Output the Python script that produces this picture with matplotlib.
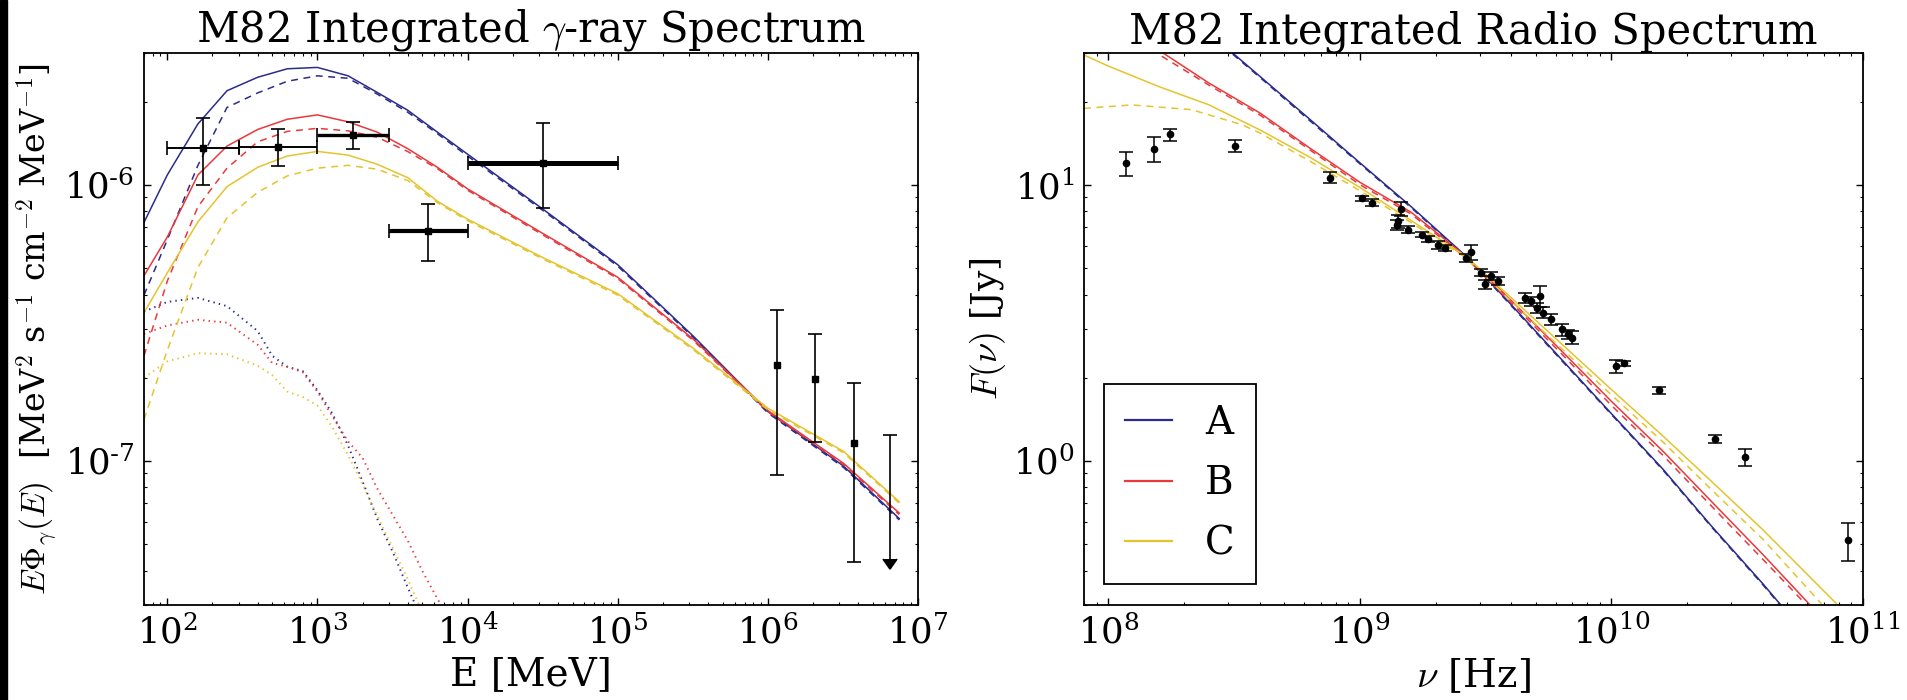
import numpy as np
import matplotlib
matplotlib.use("Agg")
import matplotlib.pyplot as plt
from matplotlib.patches import Rectangle
from matplotlib.ticker import FuncFormatter, NullFormatter

plt.rcParams["font.family"] = ["DejaVu Serif"]
plt.rcParams["mathtext.fontset"] = "cm"
plt.rcParams["lines.scale_dashes"] = False

# ---------------- gamma-ray spectrum: model curves ----------------
E_MODEL = [70, 100, 160, 250, 400, 630, 1000, 1600, 2500, 4000, 6300,
           1e4, 3.2e4, 1e5, 3.2e5, 1e6, 3.2e6, 7.5e6]

A_total = [7.30e-7, 1.084e-6, 1.66e-6, 2.19e-6, 2.45e-6, 2.63e-6, 2.66e-6,
           2.48e-6, 2.16e-6, 1.86e-6, 1.55e-6, 1.29e-6, 8.13e-7, 5.13e-7,
           2.82e-7, 1.507e-7, 9.55e-8, 6.17e-8]
A_pion = [3.98e-7, 6.31e-7, 1.175e-6, 1.905e-6, 2.15e-6, 2.37e-6, 2.48e-6,
          2.43e-6, 2.13e-6, 1.83e-6, 1.53e-6, 1.27e-6, 8.04e-7, 5.07e-7,
          2.79e-7, 1.49e-7, 9.44e-8, 6.10e-8]

B_total = [4.68e-7, 6.46e-7, 1.084e-6, 1.38e-6, 1.585e-6, 1.726e-6, 1.79e-6,
           1.69e-6, 1.55e-6, 1.35e-6, 1.156e-6, 9.66e-7, 6.64e-7, 4.62e-7,
           2.75e-7, 1.52e-7, 9.77e-8, 6.46e-8]
B_pion = [2.40e-7, 4.47e-7, 8.32e-7, 1.148e-6, 1.43e-6, 1.56e-6, 1.60e-6,
          1.567e-6, 1.486e-6, 1.318e-6, 1.143e-6, 9.55e-7, 6.56e-7, 4.57e-7,
          2.72e-7, 1.507e-7, 9.66e-8, 6.38e-8]

C_total = [3.44e-7, 4.79e-7, 7.33e-7, 9.84e-7, 1.156e-6, 1.27e-6, 1.32e-6,
           1.28e-6, 1.186e-6, 1.06e-6, 8.71e-7, 7.50e-7, 5.43e-7, 4.03e-7,
           2.55e-7, 1.55e-7, 1.08e-7, 7.10e-8]
C_pion = [1.41e-7, 2.51e-7, 5.01e-7, 7.59e-7, 9.38e-7, 1.076e-6, 1.148e-6,
          1.175e-6, 1.138e-6, 1.035e-6, 8.61e-7, 7.41e-7, 5.37e-7, 3.98e-7,
          2.52e-7, 1.53e-7, 1.067e-7, 7.02e-8]

E_LEPTON = [70, 100, 160, 250, 400, 500, 630, 800, 1000, 1260, 1600, 2000,
            2500, 3200, 4000, 5000, 6300, 8000]
A_lepton = [3.47e-7, 3.76e-7, 3.89e-7, 3.63e-7, 2.95e-7, 2.40e-7, 2.19e-7,
            2.11e-7, 1.80e-7, 1.48e-7, 1.135e-7, 8.41e-8, 6.17e-8, 4.62e-8,
            3.47e-8, 2.63e-8, 2.0e-8, 1.58e-8]
B_lepton = [2.88e-7, 3.09e-7, 3.24e-7, 3.16e-7, 2.63e-7, 2.26e-7, 2.19e-7,
            2.09e-7, 1.78e-7, 1.445e-7, 1.175e-7, 1.023e-7, 7.94e-8, 6.31e-8,
            5.13e-8, 3.98e-8, 3.16e-8, 2.51e-8]
C_lepton = [2.0e-7, 2.29e-7, 2.45e-7, 2.43e-7, 2.21e-7, 2.04e-7, 1.78e-7,
            1.70e-7, 1.585e-7, 1.32e-7, 1.047e-7, 8.22e-8, 6.31e-8, 4.79e-8,
            3.72e-8, 2.82e-8, 2.09e-8, 1.58e-8]

# ---------------- gamma-ray spectrum: measurements ----------------
LAT_E = [173, 548, 1730, 5480, 31600]
LAT_E_LO = [100, 300, 1000, 3000, 1e4]
LAT_E_HI = [300, 1000, 3000, 1e4, 1e5]
LAT_F = [1.36e-6, 1.37e-6, 1.51e-6, 6.8e-7, 1.2e-6]
LAT_F_LO = [1.0e-6, 1.17e-6, 1.35e-6, 5.3e-7, 8.2e-7]
LAT_F_HI = [1.75e-6, 1.59e-6, 1.69e-6, 8.5e-7, 1.68e-6]

TEV_E = [1.15e6, 2.05e6, 3.75e6]
TEV_F = [2.23e-7, 1.98e-7, 1.16e-7]
TEV_F_LO = [8.9e-8, 1.17e-7, 4.3e-8]
TEV_F_HI = [3.52e-7, 2.87e-7, 1.91e-7]

UL_E = [6.5e6]
UL_F = [1.24e-7]
UL_F_LO = [4.4e-8]

# ---------------- radio spectrum: model curves ----------------
NU_A = [3.12e8, 4e8, 6.3e8, 1e9, 1.6e9, 2.64e9, 4e9, 6.3e9, 1e10, 1.6e10,
        2.5e10, 4e10, 4.67e10]
A_radio = [30.0, 24.7, 17.3, 12.0, 8.32, 5.51, 3.67, 2.34, 1.48, 0.933,
           0.579, 0.358, 0.303]
A_radio_noabs = [29.7, 24.5, 17.1, 11.9, 8.25, 5.47, 3.64, 2.32, 1.47, 0.926,
                 0.575, 0.355, 0.301]

NU_B = [1.66e8, 2.5e8, 4e8, 6.3e8, 1e9, 1.6e9, 2.64e9, 4e9, 6.3e9, 1e10,
        1.6e10, 2.5e10, 4e10, 6.1e10]
B_radio = [29.9, 23.4, 18.2, 13.6, 10.2, 7.94, 5.50, 3.80, 2.51, 1.64,
           1.084, 0.711, 0.457, 0.303]
NU_B_NOABS = [1.63e8, 2.5e8, 4e8, 6.3e8, 1e9, 1.6e9, 2.64e9, 4e9, 6.3e9,
              1e10, 1.6e10, 2.5e10, 4e10, 5.9e10]
B_radio_noabs = [29.2, 23.0, 17.9, 13.4, 10.0, 7.82, 5.43, 3.73, 2.45, 1.585,
                 1.047, 0.684, 0.439, 0.303]

NU_C = [8e7, 1e8, 1.6e8, 2.5e8, 4e8, 6.3e8, 1e9, 1.6e9, 2.64e9, 4e9, 6.3e9,
        1e10, 1.6e10, 2.5e10, 4e10, 7.85e10]
C_radio = [29.5, 26.9, 22.6, 19.5, 15.8, 12.6, 9.77, 7.41, 5.50, 3.89, 2.66,
           1.81, 1.23, 0.841, 0.562, 0.303]
NU_C_NOABS = [8e7, 1.24e8, 2.14e8, 3.39e8, 4e8, 6.3e8, 1e9, 1.6e9, 2.64e9,
              4e9, 6.3e9, 1e10, 1.6e10, 2.5e10, 4e10, 6.84e10]
C_radio_noabs = [18.9, 19.45, 18.7, 16.5, 15.4, 12.2, 9.51, 7.28, 5.43, 3.78,
                 2.56, 1.73, 1.17, 0.785, 0.519, 0.303]

# ---------------- radio spectrum: measurements ----------------
RADIO_NU = [1.17e8, 1.52e8, 1.75e8, 3.2e8, 7.6e8, 1.02e9, 1.12e9, 1.40e9,
            1.42e9, 1.46e9, 1.55e9, 1.76e9, 1.86e9, 2.05e9, 2.17e9, 2.64e9,
            2.76e9, 3.04e9, 3.13e9, 3.31e9, 3.55e9, 4.52e9, 4.78e9, 5.06e9,
            5.2e9, 5.35e9, 5.75e9, 6.34e9, 6.71e9, 6.98e9, 1.04e10, 1.12e10,
            1.55e10, 2.57e10, 3.39e10, 8.7e10]
RADIO_F = [11.98, 13.5, 15.2, 13.8, 10.6, 8.93, 8.59, 7.15, 7.37, 8.17, 6.87,
           6.59, 6.37, 6.07, 5.9, 5.43, 5.69, 4.8, 4.35, 4.67, 4.47, 3.89,
           3.78, 3.58, 3.95, 3.44, 3.25, 2.99, 2.87, 2.79, 2.2, 2.25, 1.80,
           1.20, 1.03, 0.514]
RADIO_ERR = [1.2, 1.4, 0.75, 0.7, 0.5, 0.2, 0.25, 0.3, 0.4, 0.45, 0.2, 0.15,
             0.15, 0.2, 0.15, 0.2, 0.35, 0.15, 0.15, 0.15, 0.15, 0.15, 0.15,
             0.15, 0.35, 0.15, 0.15, 0.15, 0.1, 0.15, 0.12, 0.05, 0.05, 0.04,
             0.07, 0.08]

MODEL_NAMES = ["A", "B", "C"]
COLORS = ["#2b2b8c", "#e8393c", "#e4c42e"]

DASHED = (0, (5, 4))
DOTTED = (0, (1, 3))


def pow10(value, pos):
    n = int(round(np.log10(value)))
    if n < 0:
        return r"$\mathdefault{10^{\text{-}%d}}$" % (-n)
    return r"$\mathdefault{10^{%d}}$" % n


def style_axes(ax):
    ax.set_xscale("log")
    ax.set_yscale("log")
    ax.tick_params(which="both", direction="in", top=True, right=True,
                   labelsize=25.5, pad=7)
    ax.tick_params(which="major", length=5, width=1.0)
    ax.tick_params(which="minor", length=2.5, width=0.8)
    for spine in ax.spines.values():
        spine.set_linewidth(1.3)
    for axis in (ax.xaxis, ax.yaxis):
        axis.set_major_formatter(FuncFormatter(pow10))
        axis.set_minor_formatter(NullFormatter())


fig = plt.figure(figsize=(19.07, 7.0), dpi=100)
W, H = 1907.0, 700.0
axL = fig.add_axes([144 / W, 1 - 605 / H, (918 - 144) / W, (605 - 53) / H])
axR = fig.add_axes([1084 / W, 1 - 605 / H, (1863 - 1084) / W, (605 - 53) / H])
style_axes(axL)
style_axes(axR)

# ---- left panel ----
for tot, pion, lep, col in zip([A_total, B_total, C_total],
                               [A_pion, B_pion, C_pion],
                               [A_lepton, B_lepton, C_lepton], COLORS):
    axL.plot(E_MODEL, tot, color=col, lw=1.1)
    axL.plot(E_MODEL, pion, color=col, lw=1.1, ls=DASHED)
    axL.plot(E_LEPTON, lep, color=col, lw=1.4, ls=DOTTED)

lat_e = np.array(LAT_E)
lat_f = np.array(LAT_F)
yerr = [lat_f - np.array(LAT_F_LO), np.array(LAT_F_HI) - lat_f]
xerr = [lat_e - np.array(LAT_E_LO), np.array(LAT_E_HI) - lat_e]
axL.errorbar(lat_e, lat_f, yerr=yerr, fmt="s", ms=4, color="k",
             elinewidth=1.2, capsize=5, capthick=1.2)
bar_widths = [1.4, 1.4, 2.4, 3.0, 3.6]
for i, lw in enumerate(bar_widths):
    axL.errorbar([lat_e[i]], [lat_f[i]],
                 xerr=[[xerr[0][i]], [xerr[1][i]]], fmt="none",
                 ecolor="k", elinewidth=lw, capsize=5, capthick=1.2)

tev_f = np.array(TEV_F)
axL.errorbar(TEV_E, tev_f,
             yerr=[tev_f - np.array(TEV_F_LO), np.array(TEV_F_HI) - tev_f],
             fmt="s", ms=4, color="k", elinewidth=1.2, capsize=5,
             capthick=1.2)
ul_f = np.array(UL_F)
axL.errorbar(UL_E, ul_f, yerr=[ul_f - np.array(UL_F_LO), np.zeros_like(ul_f)],
             uplims=True, fmt="none", color="k", ecolor="k", elinewidth=1.2,
             capsize=5, capthick=1.2, mfc="k", mec="k")

axL.set_xlim(70, 1e7)
axL.set_ylim(3e-8, 3e-6)
axL.set_title(r"M82 Integrated $\gamma$-ray Spectrum", fontsize=30, pad=5)
axL.set_xlabel("E [MeV]", fontsize=28)
axL.set_ylabel(r"$E\Phi_\gamma(E)$  [MeV$^2$ s$^{-1}$ cm$^{-2}$ MeV$^{-1}$]",
               fontsize=24)
axL.xaxis.set_label_coords(0.5, -0.092)
axL.yaxis.set_label_coords(-0.110, 0.5)

# ---- right panel ----
handles = []
for nu, f, nu2, f2, col, name in zip(
        [NU_A, NU_B, NU_C], [A_radio, B_radio, C_radio],
        [NU_A, NU_B_NOABS, NU_C_NOABS],
        [A_radio_noabs, B_radio_noabs, C_radio_noabs], COLORS, MODEL_NAMES):
    h, = axR.plot(nu, f, color=col, lw=1.1, label=name)
    axR.plot(nu2, f2, color=col, lw=1.1, ls=DASHED)
    handles.append(h)

axR.errorbar(RADIO_NU, RADIO_F, yerr=RADIO_ERR, fmt="o", ms=4.5, color="k",
             elinewidth=1.1, capsize=5, capthick=1.1)

axR.set_xlim(8e7, 1e11)
axR.set_ylim(0.3, 30)
axR.set_title("M82 Integrated Radio Spectrum", fontsize=30, pad=5)
axR.set_xlabel(r"$\nu$ [Hz]", fontsize=28)
axR.set_ylabel(r"$F(\nu)$ [Jy]", fontsize=26)
axR.xaxis.set_label_coords(0.5, -0.092)
axR.yaxis.set_label_coords(-0.0976, 0.5)

leg = axR.legend(handles=handles, loc="lower left",
                 bbox_to_anchor=(0.0257, 0.038), borderaxespad=0,
                 fontsize=28, handlelength=1.2, handletextpad=0.85,
                 borderpad=0.55, labelspacing=0.6, fancybox=False,
                 framealpha=1, edgecolor="k")
leg.get_frame().set_linewidth(1.3)
for line in leg.get_lines():
    line.set_linewidth(1.6)

# dark strip along the left edge of the canvas
fig.add_artist(Rectangle((0, 0), 7 / W, 1, transform=fig.transFigure,
                         color="black", zorder=10))

fig.savefig("out.png", dpi=100)
